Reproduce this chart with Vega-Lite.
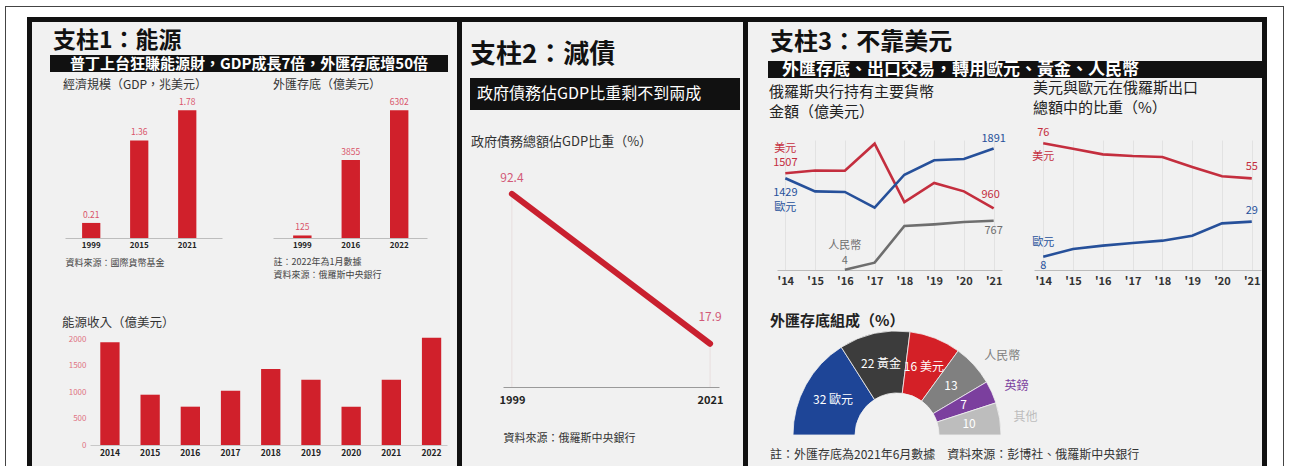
{
  "$schema": "https://vega.github.io/schema/vega-lite/v6.json",
  "padding": 0,
  "background": "#f1f1f1",
  "config": {
    "font": "Noto Sans CJK TC",
    "view": {"stroke": null},
    "title": {"anchor": "start", "frame": "group", "color": "#111111"}
  },
  "spacing": 0,
  "vconcat": [
    {"width": 1290, "height": 6, "data": {"values": []}, "mark": "point", "view": {"fill": "#ffffff"}},
    {"spacing": 0, "hconcat": [
      {"width": 5, "height": 1, "data": {"values": []}, "mark": "point", "view": {"fill": "#ffffff"}},
      {"width": 1279, "height": 1, "data": {"values": []}, "mark": "point", "view": {"fill": "#444444"}},
      {"width": 6, "height": 1, "data": {"values": []}, "mark": "point", "view": {"fill": "#ffffff"}}
    ]},
    {"spacing": 0, "hconcat": [
      {"width": 5, "height": 10, "data": {"values": []}, "mark": "point", "view": {"fill": "#ffffff"}},
      {"width": 1, "height": 10, "data": {"values": []}, "mark": "point", "view": {"fill": "#444444"}},
      {"width": 1277, "height": 10, "data": {"values": []}, "mark": "point", "view": {"fill": "#ffffff"}},
      {"width": 1, "height": 10, "data": {"values": []}, "mark": "point", "view": {"fill": "#444444"}},
      {"width": 6, "height": 10, "data": {"values": []}, "mark": "point", "view": {"fill": "#ffffff"}}
    ]},
    {"spacing": 0, "hconcat": [
      {"width": 5, "height": 5, "data": {"values": []}, "mark": "point", "view": {"fill": "#ffffff"}},
      {"width": 1, "height": 5, "data": {"values": []}, "mark": "point", "view": {"fill": "#444444"}},
      {"width": 21, "height": 5, "data": {"values": []}, "mark": "point", "view": {"fill": "#ffffff"}},
      {"width": 1240, "height": 5, "data": {"values": []}, "mark": "point", "view": {"fill": "#111111"}},
      {"width": 16, "height": 5, "data": {"values": []}, "mark": "point", "view": {"fill": "#ffffff"}},
      {"width": 1, "height": 5, "data": {"values": []}, "mark": "point", "view": {"fill": "#444444"}},
      {"width": 6, "height": 5, "data": {"values": []}, "mark": "point", "view": {"fill": "#ffffff"}}
    ]},
    {"spacing": 0, "hconcat": [
      {"width": 5, "height": 444, "data": {"values": []}, "mark": "point", "view": {"fill": "#ffffff"}},
      {"width": 1, "height": 444, "data": {"values": []}, "mark": "point", "view": {"fill": "#444444"}},
      {"width": 21, "height": 444, "data": {"values": []}, "mark": "point", "view": {"fill": "#ffffff"}},
      {"width": 5, "height": 444, "data": {"values": []}, "mark": "point", "view": {"fill": "#111111"}},
      {"width": 18, "height": 1, "data": {"values": []}, "mark": "point"},
      {"spacing": 0, "vconcat": [
        {"width": 1, "height": 8, "data": {"values": []}, "mark": "point"},
        {
          "width": 398, "height": 17,
          "view": {"fill": "#111111"},
          "title": {"text": "支柱1：能源", "fontSize": 23, "fontWeight": "bold", "dx": 3, "offset": 2},
          "data": {"values": [{"t": "普丁上台狂賺能源財，GDP成長7倍，外匯存底增50倍"}]},
          "mark": {"type": "text", "color": "#ffffff", "fontSize": 15, "fontWeight": "bold", "baseline": "middle"},
          "encoding": {"text": {"field": "t"}}
        },
        {"width": 1, "height": 7, "data": {"values": []}, "mark": "point"},
        {"spacing": 0, "hconcat": [
          {"width": 13, "height": 1, "data": {"values": []}, "mark": "point"},
          {
            "width": 157, "height": 140,
            "title": {"text": "經濟規模（GDP，兆美元）", "fontSize": 12, "fontWeight": "normal", "color": "#333333", "dx": -2, "offset": 6},
            "data": {"values": [{"year": "1999", "gdp": 0.21}, {"year": "2015", "gdp": 1.36}, {"year": "2021", "gdp": 1.78}]},
            "encoding": {
              "x": {"field": "year", "type": "ordinal", "scale": {"paddingInner": 0.62, "paddingOuter": 0.445, "align": 0.4},
                "axis": {"labelAngle": 0, "ticks": false, "domainColor": "#bdbdbd", "labelFontSize": 8, "labelFontWeight": "bold", "labelColor": "#222222", "labelPadding": 3,
                  "title": "資料來源：國際貨幣基金", "titleFontSize": 9, "titleFontWeight": "normal", "titleColor": "#444444", "titleAnchor": "start", "titleAlign": "left", "titlePadding": 9}},
              "y": {"field": "gdp", "type": "quantitative", "scale": {"domain": [0, 1.951], "nice": false}, "axis": null}
            },
            "layer": [
              {"mark": {"type": "bar", "color": "#d0202b"}},
              {"mark": {"type": "text", "color": "#d9546a", "fontSize": 8.5, "baseline": "bottom", "dy": -3}, "encoding": {"text": {"field": "gdp", "type": "quantitative", "format": ".2f"}}}
            ]
          },
          {"width": 51, "height": 1, "data": {"values": []}, "mark": "point"},
          {
            "width": 154, "height": 140,
            "title": {"text": "外匯存底（億美元）", "fontSize": 12, "fontWeight": "normal", "color": "#333333", "offset": 6},
            "data": {"values": [{"year": "1999", "res": 125}, {"year": "2016", "res": 3855}, {"year": "2022", "res": 6302}]},
            "encoding": {
              "x": {"field": "year", "type": "ordinal", "scale": {"paddingInner": 0.62, "paddingOuter": 0.4, "align": 0.52},
                "axis": {"labelAngle": 0, "ticks": false, "domainColor": "#bdbdbd", "labelFontSize": 8, "labelFontWeight": "bold", "labelColor": "#222222", "labelPadding": 3,
                  "title": ["註：2022年為1月數據", "資料來源：俄羅斯中央銀行"], "titleFontSize": 9, "titleFontWeight": "normal", "titleColor": "#444444", "titleAnchor": "start", "titleAlign": "left", "titlePadding": 8, "titleLineHeight": 13}},
              "y": {"field": "res", "type": "quantitative", "scale": {"domain": [0, 6909], "nice": false}, "axis": null}
            },
            "layer": [
              {"mark": {"type": "bar", "color": "#d0202b"}},
              {"mark": {"type": "text", "color": "#d9546a", "fontSize": 8.5, "baseline": "bottom", "dy": -3}, "encoding": {"text": {"field": "res", "type": "quantitative", "format": "d"}}}
            ]
          }
        ]},
        {"width": 1, "height": 37, "data": {"values": []}, "mark": "point"},
        {"spacing": 0, "hconcat": [
          {"width": 12, "height": 1, "data": {"values": []}, "mark": "point"},
          {
            "width": 357, "height": 106,
            "title": {"text": "能源收入（億美元）", "fontSize": 12.5, "fontWeight": "normal", "color": "#333333", "dx": -28, "offset": 6},
            "data": {"values": [
              {"year": "2014", "rev": 1938}, {"year": "2015", "rev": 949}, {"year": "2016", "rev": 723},
              {"year": "2017", "rev": 1025}, {"year": "2018", "rev": 1434}, {"year": "2019", "rev": 1233},
              {"year": "2020", "rev": 723}, {"year": "2021", "rev": 1233}, {"year": "2022", "rev": 2025}
            ]},
            "mark": {"type": "bar", "color": "#d0202b"},
            "encoding": {
              "x": {"field": "year", "type": "ordinal", "scale": {"paddingInner": 0.52, "paddingOuter": 0.2, "align": 0.64},
                "axis": {"labelAngle": 0, "ticks": false, "domainColor": "#c8c8c8", "labelFontSize": 8.5, "labelFontWeight": "bold", "labelColor": "#222222", "labelPadding": 3, "title": null}},
              "y": {"field": "rev", "type": "quantitative", "scale": {"domain": [0, 2000], "nice": false},
                "axis": {"values": [0, 500, 1000, 1500, 2000], "format": "d", "ticks": false, "domain": false, "grid": false, "labelColor": "#e07383", "labelFontSize": 8, "labelPadding": 4, "title": null}}
            }
          }
        ]}
      ]},
      {"width": 9, "height": 1, "data": {"values": []}, "mark": "point"},
      {"width": 5, "height": 444, "data": {"values": []}, "mark": "point", "view": {"fill": "#111111"}},
      {"width": 8, "height": 1, "data": {"values": []}, "mark": "point"},
      {"spacing": 0, "vconcat": [
        {"width": 1, "height": 20, "data": {"values": []}, "mark": "point"},
        {
          "width": 270, "height": 32,
          "view": {"fill": "#111111"},
          "title": {"text": "支柱2：減債", "fontSize": 26, "fontWeight": "bold", "offset": 10},
          "data": {"values": [{"t": "政府債務佔GDP比重剩不到兩成"}]},
          "mark": {"type": "text", "color": "#ffffff", "fontSize": 16, "align": "left", "baseline": "middle", "dx": 7},
          "encoding": {"text": {"field": "t"}, "x": {"datum": 0, "type": "quantitative", "scale": {"domain": [0, 1]}, "axis": null}}
        },
        {"width": 1, "height": 25, "data": {"values": []}, "mark": "point"},
        {"spacing": 0, "hconcat": [
          {"width": 1, "height": 1, "data": {"values": []}, "mark": "point"},
          {
            "width": 216, "height": 200,
            "title": {"text": "政府債務總額佔GDP比重（%）", "fontSize": 13, "fontWeight": "normal", "color": "#333333", "dx": -32, "offset": 23},
            "data": {"values": [{"year": "1999", "debt": 92.4}, {"year": "2021", "debt": 17.9}]},
            "encoding": {
              "x": {"field": "year", "type": "ordinal", "scale": {"type": "point", "padding": 0.045},
                "axis": {"labelAngle": 0, "ticks": false, "domainColor": "#9a9a9a", "labelFontSize": 11, "labelFontWeight": "bold", "labelColor": "#222222", "labelPadding": 7,
                  "title": "資料來源：俄羅斯中央銀行", "titleFontSize": 11, "titleFontWeight": "normal", "titleColor": "#333333", "titleAnchor": "start", "titleAlign": "left", "titlePadding": 27}},
              "y": {"field": "debt", "type": "quantitative", "scale": {"domain": [-3.6, 95.8], "nice": false, "zero": false}, "axis": null}
            },
            "layer": [
              {"mark": {"type": "rule", "color": "#e8dede", "strokeWidth": 1}, "encoding": {"y2": {"datum": -3.6}}},
              {"mark": {"type": "line", "color": "#c9202f", "strokeWidth": 6, "strokeCap": "round"}},
              {"transform": [{"filter": "datum.year == '1999'"}], "mark": {"type": "text", "color": "#d25a78", "fontSize": 12, "baseline": "bottom", "dy": -9}, "encoding": {"text": {"field": "debt", "type": "quantitative", "format": ".1f"}}},
              {"transform": [{"filter": "datum.year == '2021'"}], "mark": {"type": "text", "color": "#d25a78", "fontSize": 12, "baseline": "bottom", "dy": -20}, "encoding": {"text": {"field": "debt", "type": "quantitative", "format": ".1f"}}}
            ]
          }
        ]}
      ]},
      {"width": 3, "height": 1, "data": {"values": []}, "mark": "point"},
      {"width": 5, "height": 444, "data": {"values": []}, "mark": "point", "view": {"fill": "#111111"}},
      {"width": 20, "height": 1, "data": {"values": []}, "mark": "point"},
      {"spacing": 0, "resolve": {"scale": {"color": "independent"}}, "vconcat": [
        {"width": 1, "height": 8, "data": {"values": []}, "mark": "point"},
        {
          "width": 494, "height": 17,
          "view": {"fill": "#111111"},
          "title": {"text": "支柱3：不靠美元", "fontSize": 24, "fontWeight": "bold", "dx": 2, "offset": 6},
          "data": {"values": [{"t": "外匯存底、出口交易，轉用歐元、黃金、人民幣"}]},
          "mark": {"type": "text", "color": "#ffffff", "fontSize": 17, "fontWeight": "bold", "align": "left", "baseline": "middle", "dx": 14},
          "encoding": {"text": {"field": "t"}, "x": {"datum": 0, "type": "quantitative", "scale": {"domain": [0, 1]}, "axis": null}}
        },
        {"width": 1, "height": 3, "data": {"values": []}, "mark": "point"},
        {"spacing": 0, "resolve": {"scale": {"color": "independent"}}, "hconcat": [
          {"width": 1, "height": 1, "data": {"values": []}, "mark": "point"},
          {
            "width": 225, "height": 130,
            "title": {"text": ["俄羅斯央行持有主要貨幣", "金額（億美元）"], "fontSize": 15, "lineHeight": 20, "fontWeight": "normal", "color": "#222222", "dx": -8, "offset": 13},
            "data": {"values": [
              {"series": "美元", "year": "14", "value": 1507}, {"series": "美元", "year": "15", "value": 1550}, {"series": "美元", "year": "16", "value": 1545}, {"series": "美元", "year": "17", "value": 1967},
              {"series": "美元", "year": "18", "value": 1059}, {"series": "美元", "year": "19", "value": 1355}, {"series": "美元", "year": "20", "value": 1225}, {"series": "美元", "year": "21", "value": 960},
              {"series": "歐元", "year": "14", "value": 1429}, {"series": "歐元", "year": "15", "value": 1225}, {"series": "歐元", "year": "16", "value": 1216}, {"series": "歐元", "year": "17", "value": 970},
              {"series": "歐元", "year": "18", "value": 1484}, {"series": "歐元", "year": "19", "value": 1710}, {"series": "歐元", "year": "20", "value": 1730}, {"series": "歐元", "year": "21", "value": 1891},
              {"series": "人民幣", "year": "16", "value": 4}, {"series": "人民幣", "year": "17", "value": 114}, {"series": "人民幣", "year": "18", "value": 685},
              {"series": "人民幣", "year": "19", "value": 711}, {"series": "人民幣", "year": "20", "value": 747}, {"series": "人民幣", "year": "21", "value": 767}
            ]},
            "encoding": {
              "x": {"field": "year", "type": "ordinal", "scale": {"type": "point", "padding": 0.28},
                "axis": {"labelAngle": 0, "ticks": false, "domainColor": "#bbbbbb", "grid": true, "gridColor": "#e2e2e2", "labelFontSize": 11, "labelFontWeight": "bold", "labelColor": "#333333", "labelPadding": 5, "title": null, "labelExpr": "\"'\" + datum.label"}},
              "y": {"field": "value", "type": "quantitative", "scale": {"domain": [0, 2025], "nice": false}, "axis": null},
              "color": {"field": "series", "type": "nominal", "scale": {"domain": ["美元", "歐元", "人民幣"], "range": ["#c42e3e", "#26509a", "#6e6e6e"]}, "legend": null}
            },
            "layer": [
              {"mark": {"type": "line", "strokeWidth": 2.6}},
              {"transform": [{"filter": "datum.year == '14' && datum.series == '美元'"}], "mark": {"type": "text", "fontSize": 11, "baseline": "bottom", "dy": -5}, "encoding": {"text": {"field": "value", "type": "quantitative", "format": "d"}}},
              {"transform": [{"filter": "datum.year == '14' && datum.series == '美元'"}], "mark": {"type": "text", "fontSize": 11, "baseline": "bottom", "dy": -19}, "encoding": {"text": {"field": "series"}}},
              {"transform": [{"filter": "datum.year == '14' && datum.series == '歐元'"}], "mark": {"type": "text", "fontSize": 11, "baseline": "top", "dy": 9}, "encoding": {"text": {"field": "value", "type": "quantitative", "format": "d"}}},
              {"transform": [{"filter": "datum.year == '14' && datum.series == '歐元'"}], "mark": {"type": "text", "fontSize": 11, "baseline": "top", "dy": 24}, "encoding": {"text": {"field": "series"}}},
              {"transform": [{"filter": "datum.year == '21' && datum.series == '歐元'"}], "mark": {"type": "text", "fontSize": 11, "baseline": "bottom", "dy": -5}, "encoding": {"text": {"field": "value", "type": "quantitative", "format": "d"}}},
              {"transform": [{"filter": "datum.year == '21' && datum.series == '美元'"}], "mark": {"type": "text", "fontSize": 11, "baseline": "bottom", "dy": -8, "dx": -3}, "encoding": {"text": {"field": "value", "type": "quantitative", "format": "d"}}},
              {"transform": [{"filter": "datum.year == '21' && datum.series == '人民幣'"}], "mark": {"type": "text", "fontSize": 11, "baseline": "top", "dy": 4}, "encoding": {"text": {"field": "value", "type": "quantitative", "format": "d"}}},
              {"transform": [{"filter": "datum.year == '16' && datum.series == '人民幣'"}], "mark": {"type": "text", "fontSize": 11, "baseline": "bottom", "dy": -4}, "encoding": {"text": {"field": "value", "type": "quantitative", "format": "d"}}},
              {"transform": [{"filter": "datum.year == '16' && datum.series == '人民幣'"}], "mark": {"type": "text", "fontSize": 11, "baseline": "bottom", "dy": -19}, "encoding": {"text": {"field": "series"}}}
            ]
          },
          {"width": 26, "height": 1, "data": {"values": []}, "mark": "point"},
          {
            "width": 227, "height": 130,
            "title": {"text": ["美元與歐元在俄羅斯出口", "總額中的比重（%）"], "fontSize": 15, "lineHeight": 20, "fontWeight": "normal", "color": "#222222", "dx": -1, "offset": 11},
            "data": {"values": [
              {"series": "美元", "year": "14", "value": 76}, {"series": "美元", "year": "15", "value": 72.8}, {"series": "美元", "year": "16", "value": 69.4}, {"series": "美元", "year": "17", "value": 68.4},
              {"series": "美元", "year": "18", "value": 67.8}, {"series": "美元", "year": "19", "value": 61.8}, {"series": "美元", "year": "20", "value": 56.2}, {"series": "美元", "year": "21", "value": 55},
              {"series": "歐元", "year": "14", "value": 8}, {"series": "歐元", "year": "15", "value": 12.6}, {"series": "歐元", "year": "16", "value": 14.6}, {"series": "歐元", "year": "17", "value": 16.2},
              {"series": "歐元", "year": "18", "value": 17.6}, {"series": "歐元", "year": "19", "value": 20.6}, {"series": "歐元", "year": "20", "value": 28}, {"series": "歐元", "year": "21", "value": 29}
            ]},
            "encoding": {
              "x": {"field": "year", "type": "ordinal", "scale": {"type": "point", "padding": 0.31},
                "axis": {"labelAngle": 0, "ticks": false, "domainColor": "#bbbbbb", "grid": true, "gridColor": "#e2e2e2", "labelFontSize": 11, "labelFontWeight": "bold", "labelColor": "#333333", "labelPadding": 5, "title": null, "labelExpr": "\"'\" + datum.label"}},
              "y": {"field": "value", "type": "quantitative", "scale": {"domain": [0, 78], "nice": false}, "axis": null},
              "color": {"field": "series", "type": "nominal", "scale": {"domain": ["美元", "歐元"], "range": ["#c42e3e", "#26509a"]}, "legend": null}
            },
            "layer": [
              {"mark": {"type": "line", "strokeWidth": 2.6}},
              {"transform": [{"filter": "datum.year == '14' && datum.series == '美元'"}], "mark": {"type": "text", "fontSize": 11, "baseline": "bottom", "dy": -5}, "encoding": {"text": {"field": "value", "type": "quantitative", "format": "d"}}},
              {"transform": [{"filter": "datum.year == '14' && datum.series == '美元'"}], "mark": {"type": "text", "fontSize": 11, "baseline": "top", "dy": 8}, "encoding": {"text": {"field": "series"}}},
              {"transform": [{"filter": "datum.year == '21'"}], "mark": {"type": "text", "fontSize": 11, "baseline": "bottom", "dy": -6}, "encoding": {"text": {"field": "value", "type": "quantitative", "format": "d"}}},
              {"transform": [{"filter": "datum.year == '14' && datum.series == '歐元'"}], "mark": {"type": "text", "fontSize": 11, "baseline": "bottom", "dy": -9}, "encoding": {"text": {"field": "series"}}},
              {"transform": [{"filter": "datum.year == '14' && datum.series == '歐元'"}], "mark": {"type": "text", "fontSize": 11, "baseline": "top", "dy": 3}, "encoding": {"text": {"field": "value", "type": "quantitative", "format": "d"}}}
            ]
          }
        ]},
        {"width": 1, "height": 27, "data": {"values": []}, "mark": "point"},
        {
          "width": 258, "height": 104,
          "title": {"text": "外匯存底組成（%）", "fontSize": 15, "fontWeight": "bold", "color": "#222222", "dx": 2, "offset": -15},
          "data": {"values": [
            {"name": "歐元", "pct": 32, "o": 1, "inner": "32 歐元", "outer": ""},
            {"name": "黃金", "pct": 22, "o": 2, "inner": "22 黃金", "outer": ""},
            {"name": "美元", "pct": 16, "o": 3, "inner": "16 美元", "outer": ""},
            {"name": "人民幣", "pct": 13, "o": 4, "inner": "13", "outer": "人民幣"},
            {"name": "英鎊", "pct": 7, "o": 5, "inner": "7", "outer": "英鎊"},
            {"name": "其他", "pct": 10, "o": 6, "inner": "10", "outer": "其他"}
          ]},
          "encoding": {
            "theta": {"field": "pct", "type": "quantitative", "stack": true, "scale": {"range": [-1.5708, 1.5708]}},
            "order": {"field": "o", "type": "quantitative"},
            "y": {"datum": 0, "type": "quantitative", "scale": {"domain": [0, 1]}, "axis": null},
            "color": {"field": "name", "type": "nominal", "scale": {"domain": ["歐元", "黃金", "美元", "人民幣", "英鎊", "其他"], "range": ["#1e4597", "#3c3c3c", "#d42027", "#808080", "#7b3f9e", "#bdbdbd"]}, "legend": null}
          },
          "layer": [
            {"mark": {"type": "arc", "outerRadius": 104, "innerRadius": 42, "stroke": "#f1f1f1", "strokeWidth": 0.8}},
            {"mark": {"type": "text", "radius": 73, "fontSize": 12}, "encoding": {"text": {"field": "inner"}, "color": {"value": "#ffffff"}}},
            {"mark": {"type": "text", "radius": 118, "align": "left", "fontSize": 12}, "encoding": {"text": {"field": "outer"}}}
          ]
        },
        {"width": 1, "height": 12, "data": {"values": []}, "mark": "point"},
        {
          "width": 494, "height": 1,
          "title": {"text": "註：外匯存底為2021年6月數據　資料來源：彭博社、俄羅斯中央銀行", "fontSize": 12, "fontWeight": "normal", "color": "#333333", "dx": 2, "offset": 0},
          "data": {"values": []},
          "mark": "point"
        }
      ]},
      {"width": 5, "height": 444, "data": {"values": []}, "mark": "point", "view": {"fill": "#111111"}},
      {"width": 16, "height": 444, "data": {"values": []}, "mark": "point", "view": {"fill": "#ffffff"}},
      {"width": 1, "height": 444, "data": {"values": []}, "mark": "point", "view": {"fill": "#444444"}},
      {"width": 6, "height": 444, "data": {"values": []}, "mark": "point", "view": {"fill": "#ffffff"}}
    ]}
  ]
}
